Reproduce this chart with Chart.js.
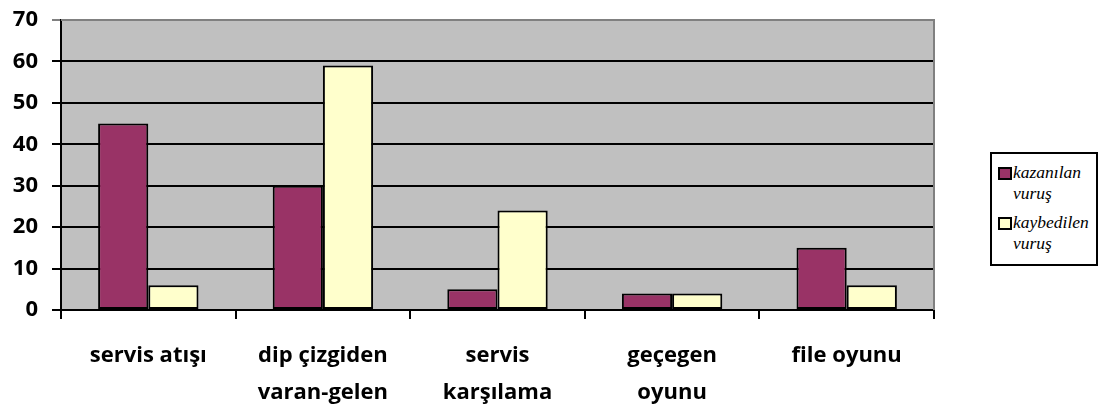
<!DOCTYPE html>
<html>
<head>
<meta charset="utf-8">
<script src="https://cdn.jsdelivr.net/npm/chart.js@4/dist/chart.umd.min.js"></script>
<style>
  html, body { margin: 0; padding: 0; background: #fff; }
  #wrap { position: relative; width: 1106px; height: 409px; }
  #legend {
    position: absolute; left: 990px; top: 152px; width: 104px; height: 110px;
    border: 2px solid #000; background: #fff;
    font-family: "Liberation Serif", "Times New Roman", serif; font-style: italic; font-size: 17.5px;
    line-height: 21px;
  }
  .item { position: relative; padding-left: 21px; margin-top: 8px; }
  .sw { position: absolute; left: 6px; top: 5px; width: 10px; height: 9px; border: 2px solid #000; }
</style>
</head>
<body>
<div id="wrap">
  <canvas id="chart" width="1106" height="409"></canvas>
  <div id="legend"></div>
</div>
<script>
const categories = [["servis atışı"], ["dip çizgiden", "varan-gelen"], ["servis", "karşılama"], ["geçegen", "oyunu"], ["file oyunu"]];
const seriesNames = ["kazanılan vuruş", "kaybedilen vuruş"];
const wonValues = [45, 30, 5, 4, 15];
const lostValues = [6, 59, 24, 4, 6];
const yTicks = [0, 10, 20, 30, 40, 50, 60, 70];
const colors = ["#993366", "#FFFFCC"];

// gray plot background + gray top/right border
const plotBg = {
    id: "plotBg",
    beforeDraw(chart) {
        const { ctx, chartArea: a } = chart;
        ctx.save();
        ctx.fillStyle = "#C0C0C0";
        ctx.fillRect(a.left, a.top, a.right - a.left, a.bottom - a.top);
        ctx.restore();
    },
    afterDatasetsDraw(chart) {
        const { ctx, chartArea: a } = chart;
        ctx.save();
        ctx.strokeStyle = "#808080";
        ctx.lineWidth = 2;
        ctx.beginPath();
        ctx.moveTo(a.left, a.top);
        ctx.lineTo(a.right, a.top);
        ctx.lineTo(a.right, a.bottom);
        ctx.stroke();
        ctx.restore();
    }
};

const ctx = document.getElementById("chart").getContext("2d");
new Chart(ctx, {
    type: "bar",
    data: {
        labels: categories,
        datasets: [
            { label: seriesNames[0], data: wonValues, backgroundColor: colors[0] },
            { label: seriesNames[1], data: lostValues, backgroundColor: colors[1] }
        ].map(d => Object.assign(d, {
            borderColor: "#000", borderWidth: 2, borderSkipped: false,
            categoryPercentage: 0.575, barPercentage: 1
        }))
    },
    options: {
        responsive: false,
        animation: false,
        layout: { padding: { top: 20, right: 172, left: 0, bottom: 0 } },
        plugins: { legend: { display: false }, tooltip: { enabled: false } },
        scales: {
            x: {
                grid: { drawOnChartArea: false, drawTicks: true, tickLength: 9, color: "#000", lineWidth: 2 },
                border: { color: "#000", width: 2 },
                ticks: {
                    color: "#000", padding: 18,
                    font: { family: "'Open Sans', 'Liberation Sans', sans-serif", size: 22, weight: "bold", lineHeight: 1.7 },
                    maxRotation: 0, autoSkip: false
                },
                afterFit(scale) { scale.height = 99; }
            },
            y: {
                min: 0, max: 70,
                afterBuildTicks(scale) { scale.ticks = yTicks.map(v => ({ value: v })); },
                grid: {
                    color: c => (c.tick && c.tick.value === 70 ? "#808080" : "#000"),
                    lineWidth: 2, tickLength: 9
                },
                border: { color: "#000", width: 2 },
                ticks: {
                    color: "#000", padding: 14,
                    font: { family: "'Open Sans', 'Liberation Sans', sans-serif", size: 22, weight: "bold" }
                },
                afterFit(scale) {
                    scale.width = 61;
                    scale.paddingTop = 12;
                    scale.paddingBottom = 12;
                }
            }
        }
    },
    plugins: [plotBg]
});

// html legend
const legendEl = document.getElementById("legend");
legendEl.innerHTML = seriesNames.map((name, i) => {
    const parts = name.split(" ");
    return `<div class="item"><span class="sw" style="background:${colors[i]}"></span>${parts[0]}<br>${parts[1]}</div>`;
}).join("");
</script>
</body>
</html>
